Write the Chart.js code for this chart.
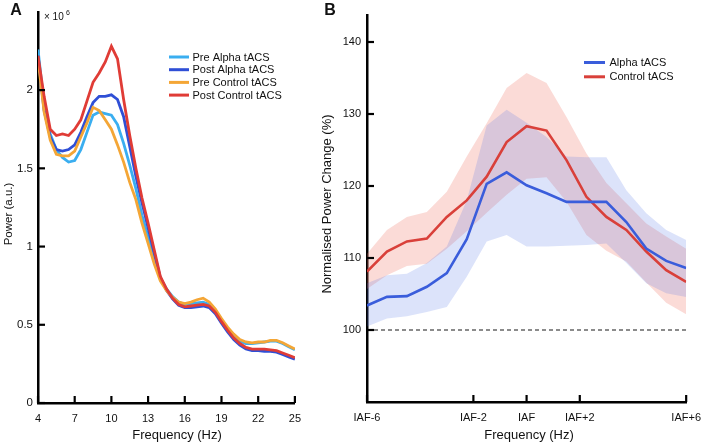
<!DOCTYPE html>
<html><head><meta charset="utf-8">
<script src="https://cdn.jsdelivr.net/npm/chart.js@4.4.0/dist/chart.umd.min.js"></script>
<style>
html,body{margin:0;padding:0;background:#fff;}
#wrap{position:relative;width:710px;height:446px;overflow:hidden;background:#fff;}
#ca{position:absolute;left:0;top:0;}
#cb{position:absolute;left:310px;top:0;}
</style></head><body>
<div id="wrap"><canvas id="ca" width="310" height="446"></canvas><canvas id="cb" width="400" height="446"></canvas></div>
<script>
// ---------- Panel A data ----------
const freqHz = [4,4.5,5,5.5,6,6.5,7,7.5,8,8.5,9,9.5,10,10.5,11,11.5,12,12.5,13,13.5,14,14.5,15,15.5,16,16.5,17,17.5,18,18.5,19,19.5,20,20.5,21,21.5,22,22.5,23,23.5,24,24.5,25];
const preAlpha    = [2.26,1.90,1.72,1.62,1.57,1.54,1.55,1.62,1.73,1.84,1.86,1.85,1.84,1.78,1.66,1.52,1.37,1.20,1.06,0.93,0.80,0.73,0.68,0.645,0.63,0.635,0.64,0.645,0.63,0.59,0.53,0.475,0.43,0.395,0.38,0.38,0.385,0.39,0.395,0.395,0.38,0.36,0.34];
const postAlpha   = [2.22,1.87,1.70,1.62,1.61,1.62,1.65,1.73,1.83,1.92,1.96,1.96,1.97,1.94,1.83,1.64,1.45,1.28,1.12,0.96,0.80,0.72,0.665,0.625,0.61,0.61,0.615,0.62,0.61,0.57,0.51,0.455,0.405,0.37,0.345,0.335,0.335,0.33,0.33,0.325,0.31,0.295,0.28];
const preControl  = [2.20,1.86,1.68,1.59,1.58,1.58,1.61,1.70,1.79,1.89,1.87,1.81,1.75,1.65,1.54,1.41,1.30,1.15,1.02,0.89,0.78,0.72,0.675,0.645,0.635,0.645,0.66,0.67,0.645,0.60,0.54,0.485,0.44,0.405,0.39,0.385,0.39,0.39,0.40,0.40,0.385,0.365,0.345];
const postControl = [2.22,1.96,1.75,1.71,1.72,1.71,1.75,1.81,1.93,2.05,2.11,2.18,2.28,2.20,1.94,1.71,1.50,1.31,1.15,0.98,0.81,0.73,0.67,0.63,0.615,0.62,0.625,0.63,0.62,0.58,0.52,0.465,0.415,0.38,0.355,0.345,0.345,0.345,0.34,0.335,0.32,0.305,0.29];
const aSeriesLabels = ['Pre Alpha tACS','Post Alpha tACS','Pre Control tACS','Post Control tACS'];
const aXTicks = [4,7,10,13,16,19,22,25];
const aYTicks = [0,0.5,1,1.5,2];
const aYTickLabels = ['0','0.5','1','1.5','2'];

// ---------- Panel B data ----------
const iafOffset    = [-6,-5.25,-4.5,-3.75,-3,-2.25,-1.5,-0.75,0,0.75,1.5,2.25,3,3.75,4.5,5.25,6];
const alphaMean    = [103.4,104.6,104.7,106.0,107.9,112.6,120.3,121.9,120.1,119.0,117.8,117.8,117.8,115.0,111.3,109.6,108.6];
const alphaUpper   = [106.5,107.6,107.8,109.3,111.6,118.0,128.4,130.6,128.8,126.8,124.1,124.0,124.0,119.4,116.2,113.9,112.5];
const alphaLower   = [100.5,101.6,101.9,102.5,103.2,107.4,112.3,113.2,111.6,111.6,111.7,111.8,112.0,109.3,106.5,105.1,104.6];
const controlMean  = [108.1,110.9,112.3,112.7,115.7,118.0,121.3,126.1,128.3,127.7,123.6,118.5,115.7,113.9,110.9,108.3,106.7];
const controlUpper = [110.6,113.9,115.7,116.4,119.2,124.1,128.7,133.6,135.7,134.3,129.6,124.5,120.4,117.6,114.8,113.0,111.3];
const controlLower = [105.7,107.6,108.9,109.2,111.3,113.7,116.3,118.8,121.0,121.2,117.8,113.2,111.0,109.5,106.6,103.8,102.2];
const bSeriesLabels = ['Alpha tACS','Control tACS'];
const bXTicks = [-6,-2,0,2,6];
const bXTickLabels = ['IAF-6','IAF-2','IAF','IAF+2','IAF+6'];
const bYTicks = [100,110,120,130,140];
const baselineValue = 100;

Chart.defaults.font.family = '"Liberation Sans", Arial, Helvetica, sans-serif';
Chart.defaults.color = '#111';

const pts = (xs, ys) => xs.map((x, i) => ({x, y: ys[i]}));
const setTicks = vals => s => { s.ticks = vals.map(v => ({value: v})); };

function inwardTicks(chart, xv, yv, len, lw) {
  const {ctx, chartArea: a, scales: {x, y}} = chart;
  ctx.save(); ctx.strokeStyle = '#000'; ctx.lineWidth = lw;
  xv.forEach(v => { const p = x.getPixelForValue(v); ctx.beginPath(); ctx.moveTo(p, a.bottom); ctx.lineTo(p, a.bottom - len); ctx.stroke(); });
  yv.forEach(v => { const p = y.getPixelForValue(v); ctx.beginPath(); ctx.moveTo(a.left, p); ctx.lineTo(a.left + len, p); ctx.stroke(); });
  ctx.restore();
}
function text(ctx, s, x, y, font, align, rot) {
  ctx.save(); ctx.font = font; ctx.fillStyle = '#111'; ctx.textAlign = align || 'center'; ctx.textBaseline = 'middle';
  ctx.translate(x, y); if (rot) ctx.rotate(rot); ctx.fillText(s, 0, 0); ctx.restore();
}
function legend(ctx, items, x0, x1, tx, y0, dy, lw) {
  ctx.save();
  items.forEach((it, i) => {
    const y = y0 + i * dy;
    ctx.strokeStyle = it.color; ctx.lineWidth = lw; ctx.beginPath(); ctx.moveTo(x0, y); ctx.lineTo(x1, y); ctx.stroke();
    ctx.fillStyle = '#111'; ctx.font = '11px "Liberation Sans", Arial, sans-serif'; ctx.textAlign = 'left'; ctx.textBaseline = 'middle';
    ctx.fillText(it.label, tx, y + 0.5);
  });
  ctx.restore();
}

// ---------- Panel A chart ----------
const aColors = ['#3aaef0', '#2f4fd6', '#f4a636', '#e03c36'];
const aData = [preAlpha, postAlpha, preControl, postControl];
const aDrawOrder = [3, 2, 1, 0]; // first drawn on top
new Chart(document.getElementById('ca'), {
  type: 'line',
  data: {
    datasets: aDrawOrder.map(k => ({
      label: aSeriesLabels[k], data: pts(freqHz, aData[k]),
      borderColor: aColors[k], borderWidth: 2.8, pointRadius: 0, tension: 0, fill: false
    }))
  },
  options: {
    responsive: false, animation: false, events: [],
    layout: {padding: {top: 9, right: 11, left: 0, bottom: 0}},
    plugins: {legend: {display: false}, tooltip: {enabled: false}},
    scales: {
      x: {type: 'linear', min: 4, max: 25, bounds: 'data',
          afterBuildTicks: setTicks(aXTicks), afterFit: s => { s.height = 43; },
          grid: {display: false, drawTicks: false}, border: {display: true, color: '#000', width: 2.5},
          ticks: {padding: 9, font: {size: 11}, color: '#111'}},
      y: {type: 'linear', min: 0, max: 2.5, bounds: 'data',
          afterBuildTicks: setTicks(aYTicks), afterFit: s => { s.width = 38; },
          grid: {display: false, drawTicks: false}, border: {display: true, color: '#000', width: 2.5},
          ticks: {padding: 5, font: {size: 11.5}, color: '#111', callback: v => aYTickLabels[aYTicks.indexOf(v)]}}
    }
  },
  plugins: [{
    id: 'decoA',
    afterDraw(chart) {
      const ctx = chart.ctx;
      inwardTicks(chart, aXTicks, aYTicks, 7, 2.2);
      text(ctx, 'A', 16, 11, 'bold 16px "Liberation Sans", Arial, sans-serif');
      text(ctx, '× 10', 44, 17, '10px "Liberation Sans", Arial, sans-serif', 'left');
      text(ctx, '6', 66, 13, '7px "Liberation Sans", Arial, sans-serif', 'left');
      text(ctx, 'Power (a.u.)', 9, 214, '11.5px "Liberation Sans", Arial, sans-serif', 'center', -Math.PI / 2);
      text(ctx, 'Frequency (Hz)', 177, 435, '13px "Liberation Sans", Arial, sans-serif');
      legend(ctx, aSeriesLabels.map((l, k) => ({label: l, color: aColors[k]})), 169, 189, 192.5, 57, 12.7, 3);
    }
  }]
});

// ---------- Panel B chart ----------
const bLineColors = ['#3a5ddb', '#d9403a'];
new Chart(document.getElementById('cb'), {
  type: 'line',
  data: {
    datasets: [
      {label: bSeriesLabels[0], data: pts(iafOffset, alphaMean), borderColor: bLineColors[0], borderWidth: 2.6, pointRadius: 0, tension: 0, fill: false},
      {label: bSeriesLabels[1], data: pts(iafOffset, controlMean), borderColor: bLineColors[1], borderWidth: 2.6, pointRadius: 0, tension: 0, fill: false},
      {label: 'baseline', data: pts([iafOffset[0], iafOffset[iafOffset.length - 1]], [baselineValue, baselineValue]), borderColor: '#666', borderWidth: 1.4, borderDash: [4, 3], pointRadius: 0, fill: false},
      {label: 'alpha upper', data: pts(iafOffset, alphaUpper), borderWidth: 0, borderColor: 'rgba(0,0,0,0)', pointRadius: 0, tension: 0, fill: '+1', backgroundColor: 'rgba(80,115,230,0.2)'},
      {label: 'alpha lower', data: pts(iafOffset, alphaLower), borderWidth: 0, borderColor: 'rgba(0,0,0,0)', pointRadius: 0, tension: 0, fill: false},
      {label: 'control upper', data: pts(iafOffset, controlUpper), borderWidth: 0, borderColor: 'rgba(0,0,0,0)', pointRadius: 0, tension: 0, fill: '+1', backgroundColor: 'rgba(240,110,95,0.25)'},
      {label: 'control lower', data: pts(iafOffset, controlLower), borderWidth: 0, borderColor: 'rgba(0,0,0,0)', pointRadius: 0, tension: 0, fill: false}
    ]
  },
  options: {
    responsive: false, animation: false, events: [],
    layout: {padding: {top: 15, right: 18, left: 0, bottom: 0}},
    plugins: {legend: {display: false}, tooltip: {enabled: false}},
    scales: {
      x: {type: 'linear', min: -6, max: 6, bounds: 'data',
          afterBuildTicks: setTicks(bXTicks), afterFit: s => { s.height = 44; },
          grid: {display: false, drawTicks: false}, border: {display: true, color: '#000', width: 2.5},
          ticks: {padding: 9, font: {size: 11}, color: '#111', callback: v => bXTickLabels[bXTicks.indexOf(v)]}},
      y: {type: 'linear', min: 90, max: 143.75, bounds: 'data',
          afterBuildTicks: setTicks(bYTicks), afterFit: s => { s.width = 57; },
          grid: {display: false, drawTicks: false}, border: {display: true, color: '#000', width: 2.5},
          ticks: {padding: 6, font: {size: 11}, color: '#111'}}
    }
  },
  plugins: [{
    id: 'decoB',
    afterDraw(chart) {
      const ctx = chart.ctx;
      inwardTicks(chart, bXTicks, bYTicks, 7, 2.2);
      text(ctx, 'B', 20, 11, 'bold 16px "Liberation Sans", Arial, sans-serif');
      text(ctx, 'Normalised Power Change (%)', 17, 204, '13px "Liberation Sans", Arial, sans-serif', 'center', -Math.PI / 2);
      text(ctx, 'Frequency (Hz)', 219, 435, '13px "Liberation Sans", Arial, sans-serif');
      legend(ctx, bSeriesLabels.map((l, k) => ({label: l, color: bLineColors[k]})), 274, 295, 299.5, 62.5, 14.3, 3);
    }
  }]
});
</script>
</body></html>
